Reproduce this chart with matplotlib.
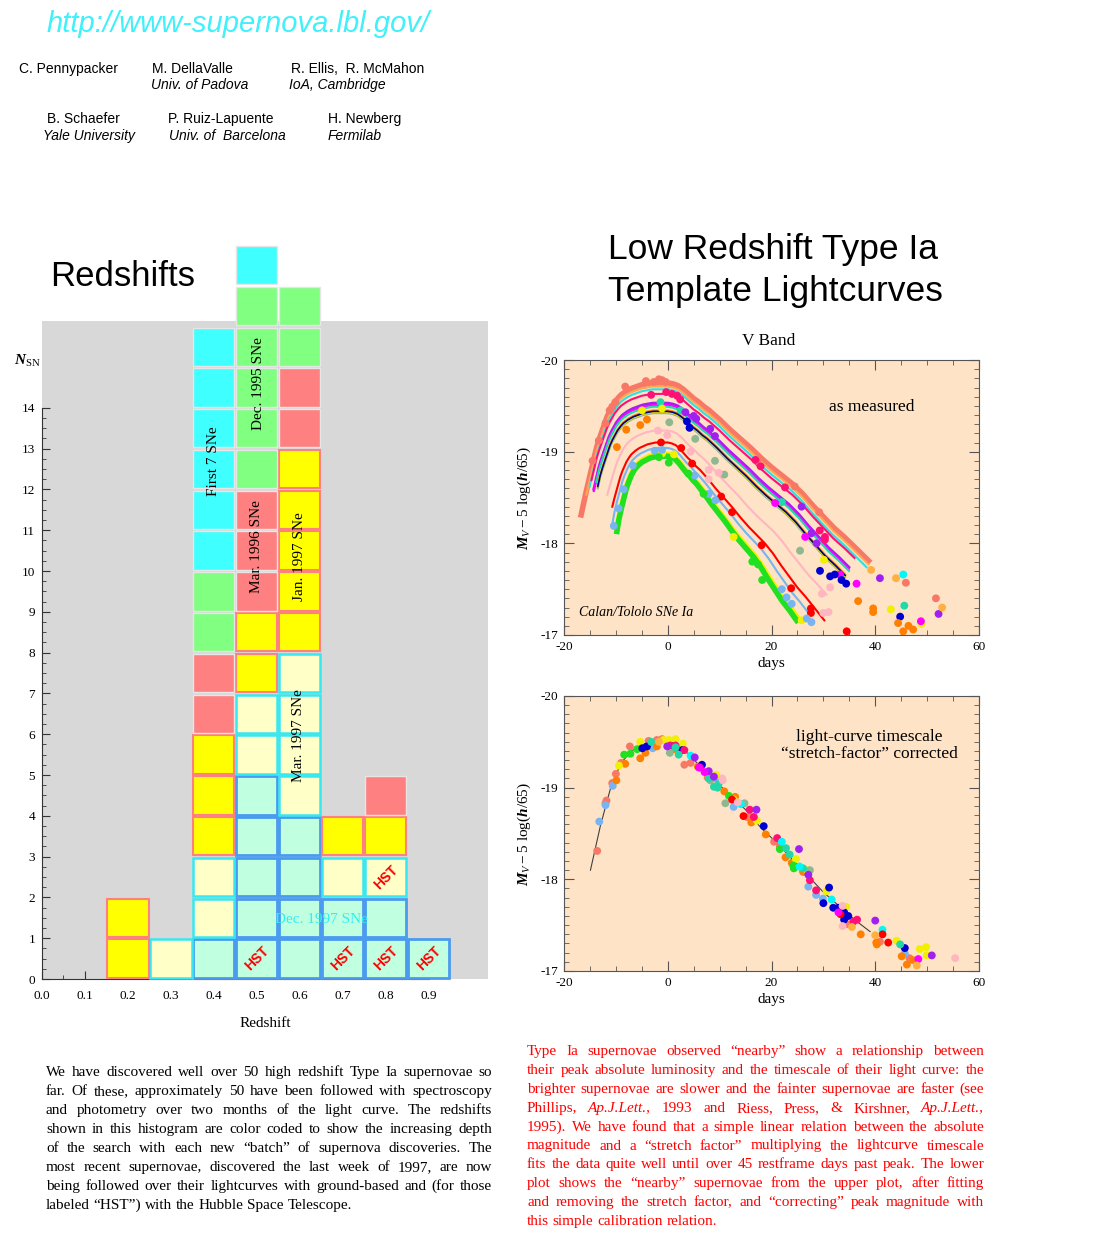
import numpy as np
import matplotlib
matplotlib.use("Agg")
import matplotlib.pyplot as plt

plt.rcParams['font.family'] = 'Liberation Serif'
plt.rcParams['axes.unicode_minus'] = False
plt.rcParams['mathtext.fontset'] = 'custom'
plt.rcParams['mathtext.rm'] = 'Liberation Serif'
plt.rcParams['mathtext.it'] = 'Liberation Serif:italic'
plt.rcParams['mathtext.bf'] = 'Liberation Serif:italic:bold'

# ---------------- DATA ----------------
# histogram: counts per redshift bin, one list per discovery batch (stacked bottom -> top)
bins = [0.2, 0.3, 0.4, 0.5, 0.6, 0.7, 0.8, 0.9]
dec97 = [0, 0, 1, 5, 4, 2, 2, 1]
mar97 = [0, 1, 2, 2, 4, 1, 1, 0]
jan97 = [2, 0, 3, 2, 5, 1, 1, 0]
mar96 = [0, 0, 2, 3, 2, 0, 1, 0]
dec95 = [0, 0, 2, 5, 2, 0, 0, 0]
first7 = [0, 0, 6, 1, 0, 0, 0, 0]
hst_z = [0.5, 0.7, 0.8, 0.9, 0.8]
hst_row = [0, 0, 0, 0, 2]

# template lightcurve shape
tmpl_tau = [-16.7, -16.2, -15.7, -15.2, -14.7, -14.2, -13.7, -13.2, -12.7, -12.2, -11.7, -11.2,
            -10.7, -10.2, -9.5, -9, -8, -7, -6, -5, -4, -3, -2, -1, 0, 1, 2, 3, 4, 5, 6, 7, 8,
            10, 12, 14, 16, 18, 20, 22, 24, 26, 28, 30, 32, 34, 36, 38.7]
tmpl_mag = [-18.31, -18.44, -18.57, -18.69, -18.81, -18.93, -19.05, -19.14, -19.22, -19.30, -19.38,
            -19.44, -19.49, -19.54, -19.59, -19.62, -19.66, -19.69, -19.71, -19.73, -19.74, -19.75,
            -19.75, -19.75, -19.75, -19.74, -19.72, -19.68, -19.63, -19.58, -19.54, -19.49, -19.45,
            -19.35, -19.24, -19.14, -19.04, -18.93, -18.83, -18.74, -18.65, -18.54, -18.41, -18.29,
            -18.17, -18.07, -17.96, -17.81]

# per-SN fitted curves in the upper panel
curve_colors = ['#F87868', '#FFA850', '#30E0E0', '#FF1075', '#A020F0', '#FF00FF', '#20D8A8',
                '#FF8C00', '#90B890', '#E8E000', '#000080', '#FFB6C1', '#FF0000', '#78B4F0',
                '#F0F000', '#20E020']
curve_widths = [4, 1.5, 1.5, 1.5, 2, 1.5, 1.5, 1.5, 1.5, 1.2, 1.2, 1.5, 1.5, 1.5, 2.5, 4]
curve_stretch = [1.0, 1.0, 0.99, 1.0, 0.97, 0.97, 0.97, 0.95, 0.95, 0.95, 0.95, 0.85, 0.78, 0.75,
                 0.70, 0.69]
curve_peak = [-19.75, -19.71, -19.68, -19.63, -19.53, -19.51, -19.49, -19.45, -19.42, -19.43,
              -19.44, -19.23, -19.10, -19.04, -18.98, -18.95]
curve_start = [-16.7, -16.0, -15.3, -15.0, -14.3, -14.3, -14.0, -13.8, -13.6, -13.8, -13.8, -12.0,
               -11.0, -10.7, -10.0, -9.8]
curve_end = [38.7, 38.9, 38.7, 38.5, 37.2, 37.0, 37.0, 36.0, 35.5, 36.0, 36.0, 32.6, 30.3, 29.0,
             26.1, 25.8]

# corrected template line in the lower panel
line_days = [-14.9, -13, -11, -9, -7, -5, -3, -1, 1, 3, 6, 9, 12, 15, 18, 21, 24, 27, 30, 33, 36, 39]
line_mags = [-18.10, -18.58, -19.00, -19.27, -19.40, -19.47, -19.50, -19.51, -19.49, -19.42, -19.25,
             -19.08, -18.92, -18.76, -18.56, -18.40, -18.22, -18.04, -17.86, -17.71, -17.56, -17.43]

# measured points, upper panel: color -> (days, mags)
upper_pts = {
    '#F87868': ([-14.5, -13.3, -12.0, -11.2, -10.7, -10.1, -8.2, -4.2, -2.7, -1.7, -1.1, -0.4, 17.2, 24.5, 29.2, 45.9, 51.7],
                [-18.90, -19.12, -19.31, -19.45, -19.49, -19.54, -19.71, -19.77, -19.76, -19.79, -19.78, -19.76, -18.90, -18.62, -18.34, -17.57, -17.40]),
    '#FF1075': ([-3.2, -0.3, 0.8, 1.8, 2.4, 16.9, 17.9, 22.6, 29.3, 30.3, 30.3],
                [-19.62, -19.65, -19.63, -19.61, -19.57, -18.91, -18.84, -18.61, -18.14, -18.07, -18.04]),
    '#20D8A8': ([-1.4, 2.5, 22.0, 45.6], [-19.54, -19.45, -18.45, -17.32]),
    '#F0F000': ([-4.95, -1.1, -1.1, 1.2, 12.7, 25.8, 30.1, 43.0, 48.9],
                [-19.45, -19.47, -18.98, -18.97, -18.07, -17.16, -17.82, -17.28, -17.12]),
    '#A020F0': ([3.4, 5.0, 5.5, 8.2, 9.1, 25.8, 27.7, 28.7, 40.9, 52.2],
                [-19.43, -19.39, -19.36, -19.25, -19.17, -18.40, -18.11, -18.00, -17.62, -17.23]),
    '#FF00FF': ([20.7, 26.5, 33.2, 36.4, 48.8], [-18.44, -18.07, -17.66, -17.56, -17.15]),
    '#0000D0': ([3.7, 4.2, 29.35, 31.3, 32.2, 33.5, 34.4, 44.8],
                [-19.33, -19.26, -17.70, -17.64, -17.66, -17.60, -17.56, -17.20]),
    '#FF8000': ([-9.8, -8.0, -5.3, -4.0, 36.7, 39.6, 39.6, 44.4, 45.4, 46.4, 47.3],
                [-19.05, -19.24, -19.29, -19.35, -17.37, -17.29, -17.25, -17.13, -17.04, -17.10, -17.06]),
    '#FFB040': ([39.2, 44.0, 52.9], [-17.71, -17.62, -17.30]),
    '#00F8F8': ([45.4], [-17.66]),
    '#90B890': ([0.3, 5.3, 9.1, 10.9, 25.5], [-19.32, -19.14, -18.90, -18.75, -17.92]),
    '#FFB6C1': ([-1.9, -0.1, 4.4, 7.9, 9.8, 7.9, 29.7, 31.3, 30.0, 31.0],
                [-19.23, -19.18, -19.00, -18.80, -18.77, -18.70, -17.45, -17.52, -17.24, -17.25]),
    '#FF0000': ([-1.3, 2.6, 4.7, 10.3, 12.4, 18.1, 23.8, 27.6, 27.6, 34.5],
                [-19.10, -19.04, -18.87, -18.51, -18.34, -17.98, -17.51, -17.29, -17.24, -17.04]),
    '#78B4F0': ([-10.4, -9.45, -8.5, -6.75, -2.5, -1.1, 5.2, 7.9, 9.2, 22.0, 22.9, 23.9, 26.8, 27.7],
                [-18.19, -18.38, -18.59, -18.85, -19.01, -19.02, -18.74, -18.54, -18.47, -17.50, -17.41, -17.34, -17.18, -17.14]),
    '#20E020': ([-1.7, 0.2, 4.0, 6.9, 16.3, 17.4, 18.2], [-18.94, -18.88, -18.76, -18.54, -17.80, -17.77, -17.60]),
}

# stretch-corrected points, lower panel
lower_pts = {
    '#F87868': ([-13.6, -12.0, -11.8, -10.7, -10.0, -9.0, -7.3, -3.7, -2.1, -1.1, -0.3, 2.4, 3.2, 4.4, 7.7, 15.3, 15.9, 20.5, 21.6, 26.1, 34.8, 40.9, 46.6],
                [-18.31, -18.83, -18.86, -19.05, -19.15, -19.27, -19.45, -19.51, -19.52, -19.53, -19.51, -19.42, -19.25, -19.27, -19.11, -18.68, -18.68, -18.41, -18.36, -18.08, -17.51, -17.32, -17.14]),
    '#78B4F0': ([-13.2, -12.0, -10.6, -2.9, 9.2, 12.7, 27.1, 28.6, 29.9, 45.7],
                [-18.63, -18.81, -19.02, -19.43, -19.10, -18.79, -17.92, -17.83, -17.79, -17.19]),
    '#FF8000': ([-9.9, -8.2, -5.3, -4.3, -2.1, 1.2, 5.8, 10.9, 13.0, 16.1, 18.9, 22.7, 23.9, 26.1, 37.2, 40.3, 40.2, 45.1, 46.1, 47.2],
                [-19.08, -19.26, -19.32, -19.38, -19.45, -19.42, -19.23, -18.96, -18.90, -18.62, -18.49, -18.24, -18.18, -18.09, -17.40, -17.29, -17.31, -17.16, -17.07, -17.12]),
    '#F0F000': ([-9.4, -5.3, -0.8, 0.2, 1.5, 2.9, 9.3, 12.7, 17.2, 24.7, 26.9, 30.6, 34.4, 44.1, 48.6, 49.8, 49.9],
                [-19.24, -19.50, -19.52, -19.52, -19.53, -19.48, -19.14, -18.87, -18.64, -18.22, -18.10, -17.87, -17.70, -17.33, -17.24, -17.26, -17.17]),
    '#20E020': ([-8.4, -7.2, -5.9, 11.8, 21.6, 24.3, 24.2], [-19.36, -19.37, -19.42, -18.91, -18.33, -18.12, -18.15]),
    '#0000D0': ([-4.9, -4.0, 2.8, 6.6, 18.5, 31.1, 30.0, 31.9, 32.9, 34.0, 34.8, 34.0, 45.7],
                [-19.43, -19.45, -19.41, -19.25, -18.58, -17.91, -17.74, -17.69, -17.69, -17.64, -17.60, -17.56, -17.25]),
    '#FF1075': ([0.5, 1.5, 3.2, 6.2, 15.8, 16.6, 21.1, 27.4, 28.6, 36.5, 35.8],
                [-19.46, -19.46, -19.41, -19.22, -18.76, -18.68, -18.45, -17.99, -17.88, -17.56, -17.54]),
    '#90B890': ([0.4, 8.2, 11.1, 14.8, 27.4], [-19.38, -19.08, -18.83, -18.83, -18.10]),
    '#20D8A8': ([-3.2, 1.5, 2.1, 7.9, 8.9, 9.8, 9.6, 22.8, 23.5, 26.1, 44.8],
                [-19.50, -19.44, -19.36, -19.10, -19.01, -19.04, -19.00, -18.34, -18.27, -18.12, -17.29]),
    '#00F8F8': ([4.4, 14.1, 22.0, 25.4, 31.6, 41.4], [-19.35, -18.82, -18.41, -18.14, -17.78, -17.45]),
    '#A020F0': ([-0.1, 5.2, 7.9, 8.9, 17.1, 25.3, 27.1, 40.0, 50.9],
                [-19.45, -19.33, -19.18, -19.12, -18.76, -18.33, -18.05, -17.55, -17.17]),
    '#FF0000': ([12.4, 14.6, 33.3, 41.4, 42.5], [-18.87, -18.69, -17.62, -17.40, -17.31]),
    '#FFB6C1': ([10.5, 10.6, 13.5, 33.7, 33.7, 55.4], [-19.10, -19.08, -18.84, -17.71, -17.49, -17.14]),
    '#FF00FF': ([6.0, 7.1, 32.9, 48.3], [-19.22, -19.17, -17.64, -17.13]),
    '#FFB040': ([-1.7, 35.5, 40.0, 48.0], [-19.50, -17.48, -17.39, -17.06]),
}

left_par = [
    "We have discovered well over 50 high redshift Type Ia supernovae so",
    "far. Of these, approximately 50 have been followed with spectroscopy",
    "and photometry over two months of the light curve. The redshifts",
    "shown in this histogram are color coded to show the increasing depth",
    "of the search with each new \u201cbatch\u201d of supernova discoveries.  The",
    "most recent supernovae, discovered the last week of 1997, are now",
    "being followed over their lightcurves with ground-based and (for those",
    "labeled \u201cHST\u201d) with the Hubble Space Telescope.",
]
right_par = [
    "Type Ia supernovae observed \u201cnearby\u201d show a relationship between",
    "their peak absolute luminosity and the timescale of their light curve: the",
    "brighter supernovae are slower and the fainter supernovae are faster (see",
    "Phillips, Ap.J.Lett., 1993 and Riess, Press, & Kirshner, Ap.J.Lett.,",
    "1995). We have found that a simple linear relation between the absolute",
    "magnitude and a \u201cstretch factor\u201d multiplying the lightcurve timescale",
    "fits the data quite well until over 45 restframe days past peak. The lower",
    "plot shows the \u201cnearby\u201d supernovae from the upper plot, after fitting",
    "and removing the stretch factor, and \u201ccorrecting\u201d peak magnitude with",
    "this simple calibration relation.",
]

# ---------------- FIGURE ----------------
W, H = 1109, 1246
fig = plt.figure(figsize=(W / 100, H / 100), dpi=100)


def fx(px):
    return px / W


def fy(py):
    return 1 - py / H


sans = 'Liberation Sans'

# header
fig.text(fx(47), fy(24), "http://www-supernova.lbl.gov/", family=sans, style='italic',
         size=21, color='#40F0FA', va='center')
names = [(19, 69, "C. Pennypacker", 'normal'), (152, 69, "M. DellaValle", 'normal'),
         (291, 69, "R. Ellis,  R. McMahon", 'normal'), (151, 85, "Univ. of Padova", 'italic'),
         (289, 85, "IoA, Cambridge", 'italic'), (47, 119, "B. Schaefer", 'normal'),
         (168, 119, "P. Ruiz-Lapuente", 'normal'), (328, 119, "H. Newberg", 'normal'),
         (43, 136, "Yale University", 'italic'), (169, 136, "Univ. of  Barcelona", 'italic'),
         (328, 136, "Fermilab", 'italic')]
for x, y, s, st in names:
    fig.text(fx(x), fy(y), s, family=sans, style=st, size=10, va='center')

fig.text(fx(50), fy(277), "Redshifts", family=sans, size=25, va='center')
fig.text(fx(773), fy(250), "Low Redshift Type Ia", family=sans, size=25.5, va='center', ha='center')
fig.text(fx(775), fy(291), "Template Lightcurves", family=sans, size=25.5, va='center', ha='center')

# ---------------- histogram ----------------
ax = fig.add_axes([fx(42), fy(979), 446 / W, 658 / H])
ax.set_facecolor('#D8D8D8')
ax.set_xlim(0, 1.038)
ax.set_ylim(0, 16.13)
for s in ['top', 'right']:
    ax.spines[s].set_visible(False)
ax.spines['left'].set_bounds(0, 14)
ax.spines['bottom'].set_bounds(0, 0.9)
for s in ['left', 'bottom']:
    ax.spines[s].set_color('#333333')

batches = [dec97, mar97, jan97, mar96, dec95, first7]
faces = ['#C0FFE0', '#FFFFC8', '#FFFF00', '#FF8080', '#80FF80', '#40FFFF']
edges = ['#4A9BEF', '#38E8F0', '#FF8080', '#E6E6E6', '#E6E6E6', '#E6E6E6']
elw = [2, 1.8, 1.5, 1.0, 1.0, 1.0]
bottoms = np.zeros(len(bins))
for counts, fc, ec, lw in zip(batches, faces, edges, elw):
    counts = np.array(counts)
    for k in range(counts.max()):
        sel = counts > k
        xs = np.array(bins)[sel]
        bars = ax.bar(xs, 0.94, width=0.096, bottom=bottoms[sel] + k + 0.03, color=fc,
                      edgecolor=ec, linewidth=lw, zorder=3)
        for p in bars:
            p.set_clip_on(False)
    bottoms += counts

for z, r in zip(hst_z, hst_row):
    ax.text(z, r + 0.5, "HST", rotation=45, ha='center', va='center', color='#FF0000',
            family=sans, weight='bold', size=10, zorder=5)

lab_kw = dict(rotation=90, ha='center', va='center', size=11, zorder=5)
ax.text(0.4, 12.7, "First 7 SNe", **lab_kw)
ax.text(0.505, 14.6, "Dec. 1995 SNe", **lab_kw)
ax.text(0.50, 10.6, "Mar. 1996 SNe", **lab_kw)
ax.text(0.60, 10.35, "Jan. 1997 SNe", **lab_kw)
ax.text(0.598, 5.96, "Mar. 1997 SNe", **lab_kw)
ax.text(0.65, 1.45, "Dec. 1997 SNe", ha='center', va='center', size=11, color='#30F0F0', zorder=5)

ax.set_yticks(np.arange(0, 15))
ax.set_yticks(np.arange(0, 14.01, 0.25), minor=True)
ax.set_xticks(np.arange(0, 0.91, 0.1))
ax.set_xticks(np.arange(0, 0.86, 0.05), minor=True)
ax.set_xticklabels(["%.1f" % v for v in np.arange(0, 0.91, 0.1)])
ax.tick_params(which='major', direction='in', length=6, width=0.8, labelsize=9.5, pad=5,
               color='#333333')
ax.tick_params(which='minor', direction='in', length=3, width=0.6, color='#333333')
ax.tick_params(axis='x', pad=8)
ax.set_xlabel("Redshift", size=11, labelpad=11)
ax.text(-0.033, 15.15, r"$\mathbf{N}_{\mathrm{SN}}$", ha='center', va='center', size=11)

# ---------------- lightcurve panels ----------------
peach_bg = '#FEE3C6'
axU = fig.add_axes([fx(564), fy(635), 415 / W, 275 / H])
axL = fig.add_axes([fx(564), fy(971), 415 / W, 275 / H])
for a in (axU, axL):
    a.set_facecolor(peach_bg)
    a.set_xlim(-20, 60)
    a.set_ylim(-17, -20)
    a.set_xticks([-20, 0, 20, 40, 60])
    a.set_xticks(np.arange(-20, 61, 5), minor=True)
    a.set_yticks([-20, -19, -18, -17])
    a.set_yticks(np.arange(-20, -16.95, 0.1), minor=True)
    a.tick_params(which='both', direction='in', top=True, right=True, color='#555555')
    a.tick_params(which='major', length=7, width=0.8, labelsize=9.5, pad=4)
    a.tick_params(which='minor', length=3.5, width=0.6)
    for s in a.spines.values():
        s.set_color('#555555')
    a.set_xlabel("days", size=11, labelpad=3)
    a.set_ylabel(r"$\mathbf{M}_{V} - 5\ \log(\mathbf{h}/65)$", size=11)
    a.yaxis.set_label_coords(-0.075, 0.5)

tau = np.array(tmpl_tau)
tm = np.array(tmpl_mag)
for col, lw, s, pk, t0, t1 in zip(curve_colors, curve_widths, curve_stretch, curve_peak,
                                  curve_start, curve_end):
    d = tau * s
    keep = (d >= t0) & (d <= t1)
    axU.plot(d[keep], tm[keep] - tm.min() + pk, color=col, lw=lw, zorder=2)

for col, (d, m) in upper_pts.items():
    axU.scatter(d, m, s=32, color=col, edgecolors='none', zorder=3)

axL.plot(line_days, line_mags, color='#404040', lw=0.8, zorder=2)
for col, (d, m) in lower_pts.items():
    axL.scatter(d, m, s=32, color=col, edgecolors='none', zorder=3)

fig.text(fx(769), fy(341), "V Band", ha='center', va='center', size=12.5)
axU.text(39.4, -19.49, "as measured", ha='center', va='center', size=12.5)
axU.text(-17.1, -17.25, "Calan/Tololo SNe Ia", style='italic', ha='left', va='center', size=10)
axL.text(38.9, -19.46, "light-curve timescale\n\u201cstretch-factor\u201d corrected",
         ha='center', va='center', size=12.5, linespacing=1.05)


# ---------------- justified paragraphs ----------------
def justify(lines, x0, x1, base0, dy, color, italic_words=()):
    renderer = fig.canvas.get_renderer()
    for i, line in enumerate(lines):
        words = line.split()
        texts = []
        for w in words:
            st = 'italic' if w.rstrip('.,') in italic_words else 'normal'
            texts.append(fig.text(0, 0, w, size=11, color=color, style=st, va='baseline'))
        widths = [t.get_window_extent(renderer).width for t in texts]
        if i == len(lines) - 1:
            gap = 3.8
        else:
            gap = (x1 - x0 - sum(widths)) / (len(words) - 1)
        x = x0
        for t, w in zip(texts, widths):
            t.set_position((fx(x), fy(base0 + i * dy)))
            x += w + gap


justify(left_par, 46, 492, 1076, 19.04, 'black')
justify(right_par, 527, 984, 1055, 18.9, '#FF0000', italic_words=('Ap.J.Lett',))

fig.savefig("out.png", dpi=100)
